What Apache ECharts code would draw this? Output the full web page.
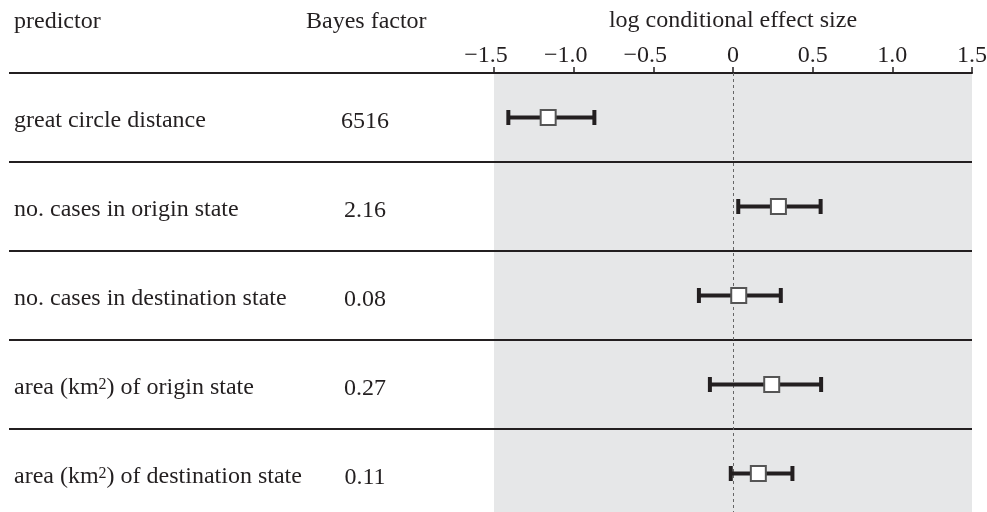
<!DOCTYPE html>
<html><head><meta charset="utf-8">
<script src="https://cdn.jsdelivr.net/npm/echarts@6/dist/echarts.min.js"></script>
<style>html,body{margin:0;padding:0;background:#fff}#c{width:987px;height:512px}</style>
</head><body><div id="c"></div>
<script>
// ---- data ----
const predictors = [
  'great circle distance',
  'no. cases in origin state',
  'no. cases in destination state',
  'area (km²) of origin state',
  'area (km²) of destination state'
];
const bayesFactors = ['6516', '2.16', '0.08', '0.27', '0.11'];
const estimates = [-1.16, 0.285, 0.036, 0.243, 0.159];
const lower = [-1.41, 0.033, -0.214, -0.145, -0.014];
const upper = [-0.87, 0.55, 0.30, 0.553, 0.373];
const tickValues = [-1.5, -1.0, -0.5, 0, 0.5, 1.0, 1.5];
const tickLabels = ['−1.5', '−1.0', '−0.5', '0', '0.5', '1.0', '1.5'];

// ---- chart ----
const FONT = '"Liberation Serif", "Times New Roman", serif';
const TXT = '#231f20';
const FS = 24;
const rows = lower.map((l, i) => [l, upper[i], estimates[i], i]);

function renderItem(params, api) {
  const y = api.value(3);
  const pL = api.coord([api.value(0), y]);
  const pH = api.coord([api.value(1), y]);
  const pE = api.coord([api.value(2), y]);
  const capH = 15, box = 15;
  const st = {stroke: TXT, lineWidth: 4};
  return {type: 'group', children: [
    {type: 'line', shape: {x1: pL[0], y1: pL[1], x2: pH[0], y2: pH[1]}, style: st},
    {type: 'line', shape: {x1: pL[0], y1: pL[1] - capH / 2, x2: pL[0], y2: pL[1] + capH / 2}, style: st},
    {type: 'line', shape: {x1: pH[0], y1: pH[1] - capH / 2, x2: pH[0], y2: pH[1] + capH / 2}, style: st},
    {type: 'rect', shape: {x: pE[0] - box / 2, y: pE[1] - box / 2, width: box, height: box},
     style: {fill: '#fff', stroke: '#555', lineWidth: 2}}
  ]};
}

const txt = {fontFamily: FONT, fontSize: FS, color: TXT, fontWeight: 'normal'};
const chart = echarts.init(document.getElementById('c'), null, {renderer: 'canvas'});
chart.setOption({
  animation: false,
  backgroundColor: '#fff',
  title: [
    {text: 'predictor', left: 9, top: 5, padding: 5, textStyle: txt},
    {text: 'Bayes factor', left: 301, top: 5, padding: 5, textStyle: txt}
  ],
  grid: [
    {left: 494, width: 478, top: 73, height: 445, show: true, backgroundColor: '#e6e7e8', borderWidth: 0, z: 0,
     outerBoundsMode: 'none', containLabel: false},
    {left: 9, width: 963, top: 73, height: 445, show: false, outerBoundsMode: 'none', containLabel: false}
  ],
  xAxis: [
    {gridIndex: 0, type: 'value', position: 'top', min: -1.5, max: 1.5, interval: 0.5,
     axisLine: {show: true, lineStyle: {color: TXT, width: 2}},
     axisTick: {show: true, inside: false, length: 6, lineStyle: {color: TXT, width: 1.5}},
     axisLabel: {margin: 5, fontFamily: FONT, fontSize: FS, color: TXT,
       formatter: v => {
         const k = tickValues.findIndex(t => Math.abs(t - v) < 1e-9);
         if (k < 0) return '';
         return v < 0 ? '{neg|' + tickLabels[k] + '}' : tickLabels[k];
       },
       rich: {neg: {fontFamily: FONT, fontSize: FS, color: TXT, padding: [0, 16, 0, 0]}}},
     splitLine: {show: false},
     name: 'log conditional effect size', nameLocation: 'middle', nameGap: 40, nameMoveOverlap: false,
     nameTextStyle: {fontFamily: FONT, fontSize: FS, color: TXT}},
    {gridIndex: 1, type: 'value', min: 0, max: 1, show: false}
  ],
  yAxis: [
    {gridIndex: 0, type: 'category', data: predictors, inverse: true, show: false},
    {gridIndex: 1, type: 'category', data: predictors, inverse: true,
     axisLine: {show: false}, axisTick: {show: false},
     axisLabel: {inside: true, margin: 5, interval: 0, fontFamily: FONT, fontSize: FS, color: TXT,
       formatter: s => '{t|' + s.replace('²', '}{sup|2}{t|') + '}',
       rich: {
         t: {fontFamily: FONT, fontSize: FS, color: TXT, lineHeight: 24, padding: [6, 0, 0, 0]},
         sup: {fontFamily: FONT, fontSize: 16, color: TXT, verticalAlign: 'top', lineHeight: 12, padding: [4, 0, 0, 0]}
       }},
     splitLine: {show: true, lineStyle: {color: TXT, width: 2}}},
    {gridIndex: 1, type: 'category', data: bayesFactors, inverse: true, position: 'left', offset: -356,
     axisLine: {show: false}, axisTick: {show: false}, splitLine: {show: false},
     axisLabel: {inside: true, margin: 0, align: 'center', interval: 0,
       formatter: s => '{b|' + s + '}',
       rich: {b: {fontFamily: FONT, fontSize: FS, color: TXT, lineHeight: 24, padding: [9, 0, 0, 0]}}}}
  ],
  series: [
    {type: 'line', xAxisIndex: 0, yAxisIndex: 0, data: [], z: 1, silent: true,
     markLine: {silent: true, symbol: 'none', label: {show: false}, animation: false,
       lineStyle: {color: '#666', type: [3, 3], width: 1}, data: [{xAxis: 0}]}},
    {type: 'custom', xAxisIndex: 0, yAxisIndex: 0, z: 5, renderItem: renderItem,
     encode: {x: [0, 1, 2], y: 3}, data: rows}
  ]
});
</script></body></html>
